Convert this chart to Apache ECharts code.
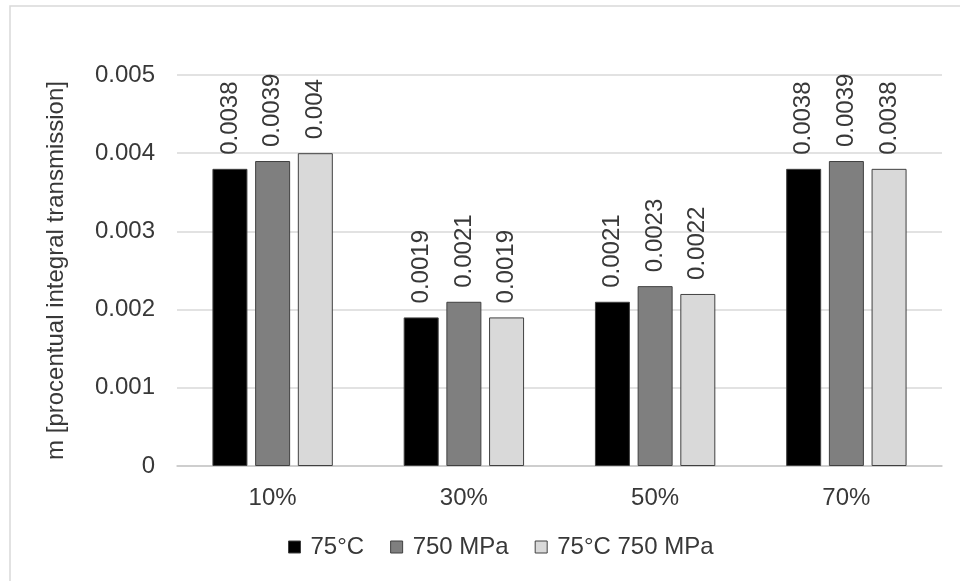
<!DOCTYPE html>
<html>
<head>
<meta charset="utf-8">
<script src="https://cdn.jsdelivr.net/npm/echarts@6/dist/echarts.min.js"></script>
<style>
  html, body { margin: 0; padding: 0; background: #fff; }
  #chart { width: 960px; height: 581px; }
</style>
</head>
<body>
<div id="chart"></div>
<script>
// Concentrations on the category axis
const categories = ['10%', '30%', '50%', '70%'];

// Slope m per treatment
const tempValues = [0.0038, 0.0019, 0.0021, 0.0038];
const pressureValues = [0.0039, 0.0021, 0.0023, 0.0039];
const combinedValues = [0.004, 0.0019, 0.0022, 0.0038];

const seriesNames = ['75°C', '750 MPa', '75°C 750 MPa'];
const yTicks = [0, 0.001, 0.002, 0.003, 0.004, 0.005];

const FONT = 'Liberation Sans, Arial, sans-serif';
const TEXT = '#383838';
const FS = 24;

const chart = echarts.init(document.getElementById('chart'), null, { renderer: 'canvas' });

function barSeries(name, data, fill) {
  return {
    name: name,
    type: 'bar',
    data: data,
    barWidth: 35,
    barGap: '22%',
    itemStyle: { color: fill, borderColor: '#404040', borderWidth: 1 },
    label: {
      show: true,
      position: 'top',
      rotate: 90,
      align: 'left',
      verticalAlign: 'middle',
      distance: 14,
      color: TEXT,
      fontFamily: FONT,
      fontSize: FS,
      formatter: p => String(p.value)
    }
  };
}

chart.setOption({
  animation: false,
  backgroundColor: '#fff',
  graphic: [{
    type: 'rect',
    shape: { x: 10, y: 6, width: 980, height: 620 },
    style: { fill: 'none', stroke: '#d9d9d9', lineWidth: 1.5 },
    silent: true
  }],
  grid: { left: 177, right: 18, top: 75, bottom: 115 },
  legend: {
    data: seriesNames,
    bottom: 17,
    left: 283,
    itemWidth: 12,
    itemHeight: 12,
    itemGap: 26,
    icon: 'rect',
    itemStyle: { borderColor: '#404040', borderWidth: 1 },
    textStyle: { color: TEXT, fontFamily: FONT, fontSize: FS, padding: [0, 0, 0, 5] }
  },
  xAxis: {
    type: 'category',
    data: categories,
    axisLine: { lineStyle: { color: '#c8c8c8', width: 1.5 } },
    axisTick: { show: false },
    axisLabel: { color: TEXT, fontFamily: FONT, fontSize: FS, margin: 20 }
  },
  yAxis: {
    type: 'value',
    min: yTicks[0],
    max: yTicks[yTicks.length - 1],
    interval: 0.001,
    name: 'm [procentual integral transmission]',
    nameLocation: 'middle',
    nameGap: 109,
    nameTextStyle: { color: TEXT, fontFamily: FONT, fontSize: FS },
    axisLine: { show: false },
    axisTick: { show: false },
    splitLine: { lineStyle: { color: '#d9d9d9', width: 1.5 } },
    axisLabel: {
      color: TEXT, fontFamily: FONT, fontSize: FS, margin: 22,
      formatter: v => String(yTicks.find(t => Math.abs(t - v) < 1e-9) ?? v)
    }
  },
  series: [
    barSeries(seriesNames[0], tempValues, '#000000'),
    barSeries(seriesNames[1], pressureValues, '#7f7f7f'),
    barSeries(seriesNames[2], combinedValues, '#d9d9d9')
  ]
});
</script>
</body>
</html>
